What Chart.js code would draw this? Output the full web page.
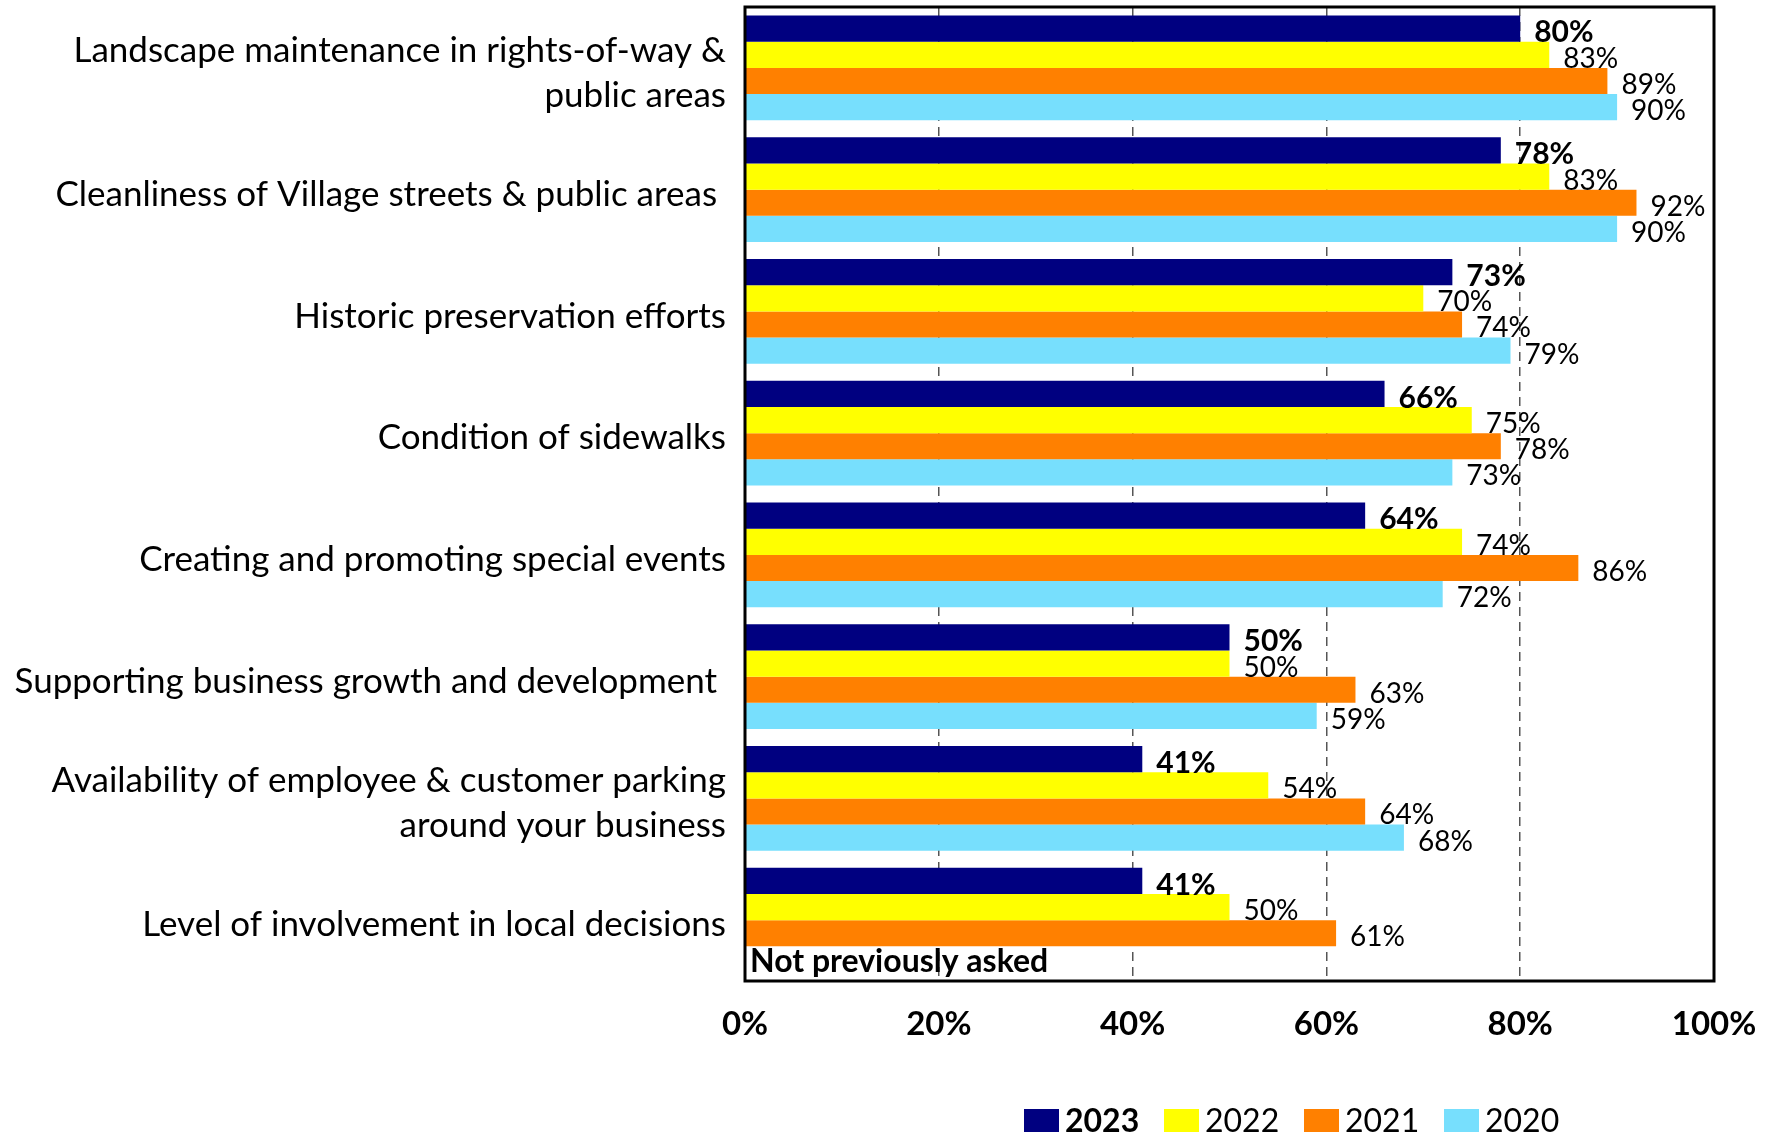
<!DOCTYPE html>
<html>
<head>
<meta charset="utf-8">
<title>Satisfaction ratings by year</title>
<script src="https://cdn.jsdelivr.net/npm/chart.js@4.4.1/dist/chart.umd.min.js"></script>
<style>
  html, body { margin: 0; padding: 0; background: #fff; }
  #wrap { width: 1777px; height: 1135px; }
</style>
</head>
<body>
<div id="wrap"><canvas id="ratingsChart" width="1777" height="1135"></canvas></div>
<script>
// Categories (multi-line ones as arrays)
const categories = [
  ["Landscape maintenance in rights-of-way &", "public areas"],
  "Cleanliness of Village streets & public areas ",
  "Historic preservation efforts",
  "Condition of sidewalks",
  "Creating and promoting special events",
  "Supporting business growth and development ",
  ["Availability of employee & customer parking", "around your business"],
  "Level of involvement in local decisions"
];

const years = ["2023", "2022", "2021", "2020"];

// Percent ratings per year (null = question not asked that year)
const values2023 = [80, 78, 73, 66, 64, 50, 41, 41];
const values2022 = [83, 83, 70, 75, 74, 50, 54, 50];
const values2021 = [89, 92, 74, 78, 86, 63, 64, 61];
const values2020 = [90, 90, 79, 73, 72, 59, 68, null];

const xTicks = [0, 20, 40, 60, 80, 100];
const missingNote = "Not previously asked";

const FONT = "Lato, 'Open Sans', sans-serif";
const colors = ["#000080", "#FFFF00", "#FF8000", "#77DFFD"];

// Value labels next to each bar, plus the note for missing values
const barLabels = {
  id: "barLabels",
  afterDatasetsDraw(chart) {
    const { ctx } = chart;
    ctx.save();
    ctx.fillStyle = "#000";
    ctx.textBaseline = "middle";
    ctx.textAlign = "left";
    chart.data.datasets.forEach((ds, di) => {
      const meta = chart.getDatasetMeta(di);
      meta.data.forEach((bar, i) => {
        const v = ds.data[i];
        if (v == null) {
          const prev = chart.getDatasetMeta(di - 1).data[i];
          const y = Number.isFinite(bar.y) ? bar.y : prev.y + prev.height;
          ctx.font = "bold 32px " + FONT;
          ctx.fillText(missingNote, chart.chartArea.left + 5, y + 2);
          return;
        }
        ctx.font = di === 0 ? "bold 30px " + FONT : "28px " + FONT;
        ctx.fillText(v + "%", bar.x + 14, bar.y + 4);
      });
    });
    ctx.restore();
  }
};

// Black frame round the plot area
const plotFrame = {
  id: "plotFrame",
  afterDraw(chart) {
    const { ctx, chartArea: a } = chart;
    ctx.save();
    ctx.strokeStyle = "#000";
    ctx.lineWidth = 3;
    ctx.strokeRect(a.left, a.top, a.right - a.left, a.bottom - a.top);
    ctx.restore();
  }
};

// Legend row under the axis, first year in bold
const bottomLegend = {
  id: "bottomLegend",
  afterDraw(chart) {
    const { ctx } = chart;
    ctx.save();
    ctx.textBaseline = "middle";
    ctx.textAlign = "left";
    const y = 1121;
    chart.data.datasets.forEach((ds, di) => {
      const x = 1024 + di * 140;
      ctx.fillStyle = ds.backgroundColor;
      ctx.fillRect(x, y - 12, 35, 23);
      ctx.font = (di === 0 ? "bold " : "") + "32px " + FONT;
      ctx.fillStyle = "#000";
      ctx.fillText(ds.label, x + 41, y + 1);
    });
    ctx.restore();
  }
};

const datasets = [values2023, values2022, values2021, values2020].map((vals, i) => ({
  label: years[i],
  data: vals,
  backgroundColor: colors[i],
  borderWidth: 0,
  categoryPercentage: 0.86,
  barPercentage: 1.0
}));

new Chart(document.getElementById("ratingsChart").getContext("2d"), {
  type: "bar",
  data: { labels: categories, datasets },
  options: {
    indexAxis: "y",
    responsive: false,
    animation: false,
    layout: { padding: { top: 7, right: 63, left: 0, bottom: 0 } },
    plugins: {
      legend: { display: false },
      tooltip: { enabled: false }
    },
    scales: {
      x: {
        min: 0,
        max: 100,
        afterBuildTicks: (scale) => {
          scale.ticks = xTicks.map((v) => ({ value: v }));
        },
        afterFit: (scale) => {
          scale.height = 154;
          scale.paddingLeft = 0;
          scale.paddingRight = 0;
        },
        ticks: {
          callback: (v) => v + "%",
          font: { family: FONT, size: 33, weight: "bold" },
          color: "#000",
          padding: 24,
          maxRotation: 0
        },
        grid: {
          drawTicks: false,
          color: "#555",
          lineWidth: 1.5
        },
        border: { display: false, dash: [9, 6] }
      },
      y: {
        afterFit: (scale) => {
          scale.width = 745;
          scale.paddingTop = 0;
          scale.paddingBottom = 0;
        },
        ticks: {
          font: { family: FONT, size: 35, lineHeight: 1.29 },
          color: "#000",
          padding: 19,
          labelOffset: 5
        },
        grid: { display: false, drawTicks: false },
        border: { display: false }
      }
    }
  },
  plugins: [barLabels, plotFrame, bottomLegend]
});
</script>
</body>
</html>
